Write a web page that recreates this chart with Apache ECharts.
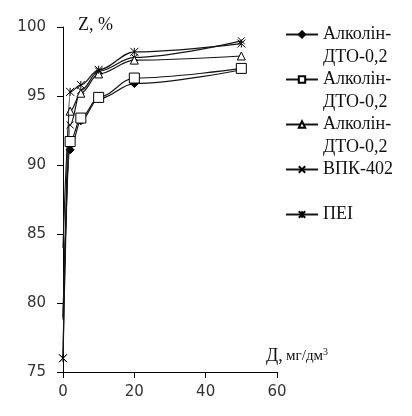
<!DOCTYPE html>
<html>
<head>
<meta charset="utf-8">
<script src="https://cdn.jsdelivr.net/npm/echarts@6/dist/echarts.min.js"></script>
<style>html,body{margin:0;padding:0;background:#fff}#c{width:412px;height:416px}</style>
</head>
<body>
<div id="c"></div>
<script>
// Dose, mg/dm3 (x) and protection degree Z, % (y)
const dose = [0, 2, 5, 10, 20, 50];
const alkolin1 = [78.8, 91.1, 93.2, 94.8, 95.9, 96.9];
const alkolin2 = [79.0, 91.7, 93.4, 94.9, 96.3, 97.0];
const alkolin3 = [84.0, 93.9, 95.2, 96.6, 97.6, 97.9];
const vpk402   = [76.0, 92.9, 95.4, 96.8, 97.8, 99.0];
const pei      = [76.0, 95.3, 95.8, 96.9, 98.2, 98.8];
const seriesNames = ['Алколін-ДТО-0,2 (1)', 'Алколін-ДТО-0,2 (2)', 'Алколін-ДТО-0,2 (3)', 'ВПК-402', 'ПЕІ'];
const legendLines = [['Алколін-', 'ДТО-0,2'], ['Алколін-', 'ДТО-0,2'], ['Алколін-', 'ДТО-0,2'], ['ВПК-402'], ['ПЕІ']];
const xTicks = {min: 0, max: 60, interval: 20};
const yTicks = {min: 75, max: 100, interval: 5};
const yName = 'Z, %';
const xName = 'Д, мг/дм';

const chart = echarts.init(document.getElementById('c'), null, {renderer: 'canvas'});
const values = [alkolin1, alkolin2, alkolin3, vpk402, pei];
const hideFirst = [true, true, true, false, false];
const symbols = [
  {symbol: 'diamond', size: 8, fill: '#000', z: 5},
  {symbol: 'rect', size: 10, fill: '#fff', z: 9},
  {symbol: 'triangle', size: 8, fill: '#fff', z: 7},
  {symbol: 'path://M0,0L10,10M10,0L0,10', size: 7, fill: '#000', z: 6},
  {symbol: 'path://M0,0L10,10M10,0L0,10M5,0L5,10', size: 8, fill: '#000', z: 8}
];
const series = values.map((v, i) => ({
  name: seriesNames[i],
  type: 'line',
  smooth: 0.35,
  smoothMonotone: 'x',
  symbol: symbols[i].symbol,
  symbolSize: symbols[i].size,
  showAllSymbol: true,
  clip: false,
  lineStyle: {color: '#151515', width: 1.2},
  itemStyle: {color: symbols[i].fill, borderColor: '#000', borderWidth: 1},
  emphasis: {disabled: true},
  data: dose.map((d, j) => {
    const item = {value: [d, v[j]]};
    if (j === 0 && hideFirst[i]) item.symbol = 'none';
    return item;
  }),
  z: symbols[i].z
}));

chart.setOption({
  animation: false,
  backgroundColor: '#fff',
  grid: {left: 63, right: 135, top: 27, bottom: 44},
  xAxis: {
    type: 'value', min: xTicks.min, max: xTicks.max, interval: xTicks.interval,
    axisLine: {show: true, onZero: false, lineStyle: {color: '#000', width: 1}},
    axisTick: {show: true, inside: false, length: 6, lineStyle: {color: '#000'}},
    axisLabel: {margin: 13, color: '#333', fontFamily: 'DejaVu Sans', fontSize: 15},
    splitLine: {show: false}
  },
  yAxis: {
    type: 'value', min: yTicks.min, max: yTicks.max, interval: yTicks.interval,
    axisLine: {show: true, onZero: false, lineStyle: {color: '#000', width: 1}},
    axisTick: {show: true, inside: false, length: 6, lineStyle: {color: '#000'}},
    axisLabel: {margin: 17, color: '#333', fontFamily: 'DejaVu Sans', fontSize: 15},
    splitLine: {show: false}
  },
  legend: {
    orient: 'vertical',
    left: 285, top: 0,
    padding: 0,
    itemGap: -24,
    itemWidth: 32, itemHeight: 8,
    selectedMode: false,
    data: seriesNames,
    formatter: function (name) {
      const lines = legendLines[seriesNames.indexOf(name)];
      return lines.length === 2 ? '\u00a0\n' + lines[0] + '\n' + lines[1] : '\u00a0\n' + lines[0] + '\n\u00a0';
    },
    textStyle: {fontFamily: 'Liberation Serif', fontSize: 18, lineHeight: 23, color: '#111'}
  },
  graphic: [
    {type: 'text', left: 78, top: 16, style: {text: yName, font: '18px "Liberation Serif"', fill: '#111'}},
    {type: 'text', left: 266, top: 347, style: {
      text: '{a|Д,} {b|мг/дм}{s|3}',
      rich: {
        a: {font: '18px "Liberation Serif"', fill: '#111'},
        b: {font: '15px "Liberation Serif"', fill: '#111'},
        s: {font: '10px "Liberation Serif"', fill: '#111', verticalAlign: 'top', padding: [0, 0, 8, 0]}
      }
    }}
  ],
  series: series
});
</script>
</body>
</html>
